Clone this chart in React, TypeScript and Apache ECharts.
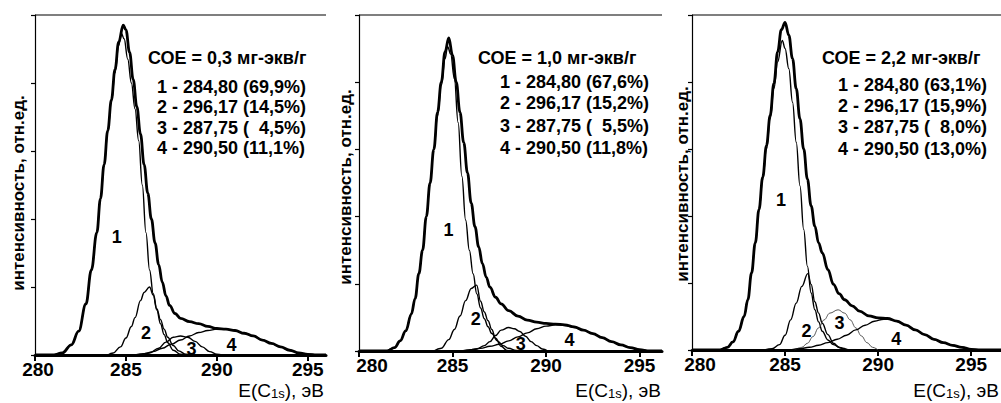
import React, { useEffect, useRef } from "react";
import * as echarts from "echarts";

type Pt = [number, number];

// ---------- Panel 1: СОЕ = 0,3 ----------
const p1Envelope: Pt[] = [[280,0],[281,0],[281.5,0.03],[282,0.15],[282.4,0.35],[282.8,0.75],[283.1,1.25],[283.4,1.8],[283.6,2.3],[283.8,2.8],[284,3.3],[284.2,3.75],[284.4,4.2],[284.6,4.6],[284.85,4.85],[285,4.78],[285.2,4.45],[285.4,4.05],[285.6,3.65],[285.8,3.25],[286,2.8],[286.2,2.38],[286.4,2.0],[286.6,1.65],[286.8,1.33],[287,1.07],[287.2,0.87],[287.4,0.73],[287.7,0.61],[288,0.54],[288.5,0.49],[289,0.46],[289.5,0.42],[290,0.39],[290.5,0.38],[291,0.36],[291.5,0.32],[292,0.28],[292.5,0.22],[293,0.17],[293.5,0.12],[294,0.07],[294.5,0.03],[295,0.01],[295.5,0],[296,0]];
const p1Peak1: Pt[] = [[281,0],[281.5,0.03],[282,0.15],[282.4,0.35],[282.8,0.75],[283.1,1.25],[283.4,1.8],[283.6,2.3],[283.8,2.78],[284,3.28],[284.2,3.72],[284.4,4.15],[284.6,4.55],[284.75,4.73],[284.9,4.65],[285.1,4.35],[285.3,4.0],[285.5,3.62],[285.7,3.15],[285.9,2.5],[286.1,1.8],[286.3,1.25],[286.5,0.9],[286.7,0.68],[286.9,0.52],[287.1,0.38],[287.3,0.26],[287.6,0.14],[287.9,0.06],[288.3,0.01],[288.7,0]];
const p1Peak2: Pt[] = [[284,0],[284.3,0.03],[284.7,0.12],[285,0.25],[285.3,0.42],[285.5,0.55],[285.8,0.8],[286,0.92],[286.3,1.0],[286.5,0.88],[286.7,0.66],[286.9,0.46],[287.1,0.3],[287.3,0.18],[287.6,0.07],[288,0.01],[288.3,0]];
const p1Peak3: Pt[] = [[285.8,0],[286.3,0.03],[286.8,0.1],[287.2,0.19],[287.6,0.26],[288,0.28],[288.4,0.26],[288.8,0.2],[289.2,0.12],[289.6,0.05],[290,0.01],[290.3,0]];
const p1Peak4: Pt[] = [[285.5,0],[286,0.02],[286.5,0.05],[287,0.1],[287.5,0.16],[288,0.22],[288.5,0.28],[289,0.33],[289.5,0.36],[290,0.38],[290.5,0.38],[291,0.36],[291.5,0.32],[292,0.28],[292.5,0.22],[293,0.17],[293.5,0.12],[294,0.07],[294.5,0.03],[295,0.01],[295.5,0]];
const p1LabelAt: Pt[] = [[284.5,1.74],[286.1,0.32],[288.6,0.09],[290.8,0.15]];

// ---------- Panel 2: СОЕ = 1,0 ----------
const p2Envelope: Pt[] = [[280,0],[281.5,0],[281.9,0.05],[282.2,0.15],[282.5,0.3],[282.8,0.55],[283,0.78],[283.2,1.15],[283.4,1.5],[283.6,2.0],[283.8,2.5],[284,3.0],[284.2,3.55],[284.4,4.0],[284.6,4.45],[284.8,4.66],[285,4.4],[285.2,4.0],[285.4,3.55],[285.6,3.1],[285.8,2.65],[286,2.2],[286.2,1.85],[286.4,1.55],[286.6,1.3],[286.8,1.1],[287,0.95],[287.3,0.8],[287.6,0.7],[288,0.6],[288.5,0.52],[289,0.46],[289.5,0.43],[290,0.41],[290.5,0.4],[291,0.39],[291.5,0.36],[292,0.31],[292.5,0.26],[293,0.2],[293.5,0.14],[294,0.09],[294.5,0.05],[295,0.02],[295.5,0],[296.2,0]];
const p2Peak1: Pt[] = [[281.5,0],[281.9,0.05],[282.2,0.15],[282.5,0.3],[282.8,0.55],[283,0.78],[283.2,1.15],[283.4,1.5],[283.6,2.0],[283.8,2.5],[284,3.0],[284.2,3.5],[284.4,3.95],[284.6,4.35],[284.74,4.53],[284.9,4.42],[285.1,4.05],[285.3,3.4],[285.5,2.6],[285.7,1.95],[285.9,1.5],[286.1,1.15],[286.3,0.85],[286.5,0.64],[286.7,0.48],[286.9,0.36],[287.1,0.26],[287.4,0.15],[287.7,0.08],[288,0.04],[288.4,0.01],[288.8,0]];
const p2Peak2: Pt[] = [[284,0],[284.4,0.04],[284.8,0.17],[285.1,0.32],[285.4,0.52],[285.7,0.75],[286,0.93],[286.29,0.98],[286.5,0.74],[286.7,0.58],[286.9,0.45],[287.1,0.32],[287.3,0.19],[287.6,0.07],[287.9,0.01],[288.2,0]];
const p2Peak3: Pt[] = [[285.8,0],[286.3,0.03],[286.7,0.08],[287,0.14],[287.3,0.23],[287.6,0.31],[288,0.35],[288.3,0.33],[288.6,0.29],[288.9,0.22],[289.2,0.14],[289.5,0.08],[289.8,0.03],[290.1,0]];
const p2Peak4: Pt[] = [[285.5,0],[286,0.02],[286.5,0.04],[287,0.07],[287.5,0.1],[288,0.15],[288.5,0.21],[289,0.27],[289.5,0.33],[290,0.37],[290.5,0.39],[291,0.38],[291.5,0.35],[292,0.31],[292.5,0.26],[293,0.2],[293.5,0.14],[294,0.09],[294.5,0.05],[295,0.02],[295.5,0]];
const p2LabelAt: Pt[] = [[284.78,1.8],[286.24,0.47],[288.65,0.11],[291.25,0.17]];

// ---------- Panel 3: СОЕ = 2,2 ----------
const p3Envelope: Pt[] = [[280,0],[281.5,0],[281.9,0.04],[282.2,0.12],[282.5,0.28],[282.8,0.5],[283,0.75],[283.2,1.15],[283.4,1.6],[283.6,2.1],[283.8,2.58],[284,3.05],[284.2,3.5],[284.4,3.98],[284.6,4.45],[284.8,4.78],[285,4.89],[285.2,4.7],[285.4,4.35],[285.6,3.9],[285.8,3.45],[286,3.0],[286.2,2.55],[286.4,2.15],[286.6,1.85],[286.8,1.6],[287,1.45],[287.3,1.2],[287.6,0.98],[287.9,0.84],[288.2,0.75],[288.6,0.66],[289,0.58],[289.5,0.51],[290,0.48],[290.5,0.47],[291,0.43],[291.5,0.37],[292,0.3],[292.5,0.23],[293,0.16],[293.5,0.11],[294,0.07],[294.5,0.04],[295,0.01],[295.5,0],[296.6,0]];
const p3Peak1: Pt[] = [[281.5,0],[281.9,0.04],[282.2,0.12],[282.5,0.28],[282.8,0.5],[283,0.75],[283.2,1.15],[283.4,1.6],[283.6,2.08],[283.8,2.55],[284,3.0],[284.2,3.45],[284.4,3.9],[284.6,4.3],[284.85,4.62],[285,4.5],[285.2,4.2],[285.4,3.7],[285.6,3.1],[285.8,2.45],[286,1.8],[286.2,1.25],[286.4,0.85],[286.6,0.6],[286.8,0.42],[287,0.28],[287.3,0.15],[287.6,0.08],[288,0.03],[288.4,0]];
const p3Peak2: Pt[] = [[283.9,0],[284.3,0.02],[284.7,0.08],[285,0.22],[285.3,0.45],[285.6,0.7],[285.9,0.95],[286.22,1.14],[286.4,0.98],[286.6,0.72],[286.8,0.55],[287,0.4],[287.3,0.23],[287.6,0.1],[287.9,0.04],[288.2,0]];
const p3Peak3: Pt[] = [[285.5,0],[285.9,0.04],[286.2,0.1],[286.5,0.2],[286.8,0.33],[287.1,0.45],[287.4,0.55],[287.85,0.6],[288.2,0.55],[288.5,0.45],[288.8,0.33],[289.1,0.21],[289.4,0.11],[289.7,0.04],[290,0]];
const p3Peak4: Pt[] = [[285.3,0],[285.8,0.02],[286.3,0.04],[286.8,0.07],[287.3,0.11],[287.8,0.16],[288.3,0.22],[288.8,0.3],[289.3,0.37],[289.8,0.43],[290.3,0.46],[290.6,0.46],[291,0.43],[291.5,0.37],[292,0.3],[292.5,0.23],[293,0.16],[293.5,0.11],[294,0.07],[294.5,0.04],[295,0.01],[295.5,0]];
const p3LabelAt: Pt[] = [[284.78,2.24],[286.15,0.29],[287.93,0.4],[290.97,0.17]];

// ---------- Texts ----------
const titles = ["СОЕ = 0,3 мг-экв/г", "СОЕ = 1,0 мг-экв/г", "СОЕ = 2,2 мг-экв/г"];
const p1Legend = ["1 - 284,80 (69,9%)", "2 - 296,17 (14,5%)", "3 - 287,75 (  4,5%)", "4 - 290,50 (11,1%)"];
const p2Legend = ["1 - 284,80 (67,6%)", "2 - 296,17 (15,2%)", "3 - 287,75 (  5,5%)", "4 - 290,50 (11,8%)"];
const p3Legend = ["1 - 284,80 (63,1%)", "2 - 296,17 (15,9%)", "3 - 287,75 (  8,0%)", "4 - 290,50 (13,0%)"];
const peakNames = ["1", "2", "3", "4"];
const xTicks = [280, 285, 290, 295];
const yTicks = [0, 1, 2, 3, 4, 5];
const yName = "интенсивность, отн.ед.";
const xNameRich = "E(C{sub|1s}), эВ";

const FONT = "'Liberation Sans', Arial, Helvetica, sans-serif";

const panels = [
  { env: p1Envelope, peaks: [p1Peak1, p1Peak2, p1Peak3, p1Peak4], labels: p1LabelAt, legend: p1Legend, title: titles[0] },
  { env: p2Envelope, peaks: [p2Peak1, p2Peak2, p2Peak3, p2Peak4], labels: p2LabelAt, legend: p2Legend, title: titles[1] },
  { env: p3Envelope, peaks: [p3Peak1, p3Peak2, p3Peak3, p3Peak4], labels: p3LabelAt, legend: p3Legend, title: titles[2] },
];

const layouts = [
  { left: 35, top: 15, width: 291, height: 340, max: 296, minShift: 6, yName: [18, 193], xNameRight: 324, title: [148, 58], legX: 157, legY: [87, 107, 128, 148] },
  { left: 359, top: 15, width: 303, height: 336, max: 296.2, minShift: 26, yName: [345, 187], xNameRight: 661, title: [478, 58], legX: 500, legY: [82, 103, 126, 148] },
  { left: 692, top: 15, width: 327, height: 335, max: 296.6, minShift: 16, yName: [682, 184], xNameRight: 999, title: [822, 58], legX: 838, legY: [85, 106, 127, 149] },
];

function buildOption() {
  const grid: any[] = [];
  const xAxis: any[] = [];
  const yAxis: any[] = [];
  const series: any[] = [];
  const graphic: any[] = [];

  panels.forEach((p, i) => {
    const L = layouts[i];
    grid.push({ left: L.left, top: L.top, width: L.width, height: L.height, containLabel: false });
    xAxis.push({
      gridIndex: i,
      type: "value",
      min: 280,
      max: L.max,
      axisLine: { show: true, onZero: false, lineStyle: { color: "#000", width: 3 } },
      axisTick: { show: true, inside: false, length: 6, customValues: xTicks, lineStyle: { color: "#000", width: 2 } },
      axisLabel: {
        show: true,
        customValues: xTicks,
        margin: 5,
        color: "#000",
        fontSize: 19,
        fontWeight: "bold",
        fontFamily: FONT,
        formatter: (v: number) => (v === 280 ? "{m|" + v + "}" : "{n|" + v + "}"),
        rich: {
          m: { fontSize: 19, fontWeight: "bold", fontFamily: FONT, color: "#000", padding: [0, 0, 0, L.minShift] },
          n: { fontSize: 19, fontWeight: "bold", fontFamily: FONT, color: "#000" },
        },
      },
      splitLine: { show: false },
    });
    yAxis.push({
      gridIndex: i,
      type: "value",
      min: 0,
      max: 5,
      interval: 1,
      axisLine: { show: true, onZero: false, lineStyle: { color: "#000", width: 1.2 } },
      axisTick: { show: true, inside: false, length: 4, customValues: yTicks, lineStyle: { color: "#000", width: 1.2 } },
      axisLabel: { show: false },
      splitLine: { show: false },
    });

    p.peaks.forEach((pk, k) => {
      const faint = i === 2 && k === 2;
      series.push({
        type: "line",
        name: "p" + (i + 1) + "-" + (k + 1),
        xAxisIndex: i,
        yAxisIndex: i,
        data: pk,
        symbol: "none",
        smooth: 0.4,
        smoothMonotone: "x",
        lineStyle: { color: faint ? "#444" : "#000", width: faint ? 0.9 : 1.4 },
        z: 2,
        silent: true,
      });
    });
    series.push({
      type: "line",
      name: "env" + (i + 1),
      xAxisIndex: i,
      yAxisIndex: i,
      data: p.env,
      symbol: "none",
      smooth: 0.4,
      smoothMonotone: "x",
      lineStyle: { color: "#000", width: 2.8 },
      z: 3,
      silent: true,
    });
    series.push({
      type: "scatter",
      xAxisIndex: i,
      yAxisIndex: i,
      symbolSize: 0,
      itemStyle: { color: "#000", opacity: 1 },
      data: p.labels.map((v, k) => ({ value: v, name: peakNames[k] })),
      label: {
        show: true,
        position: "inside",
        formatter: "{b}",
        color: "#000",
        opacity: 1,
        fontSize: 18,
        fontWeight: "bold",
        fontFamily: FONT,
        textBorderWidth: 0,
        textBorderColor: "transparent",
      },
      z: 5,
      silent: true,
    });

    // top frame line
    graphic.push({
      type: "line",
      shape: { x1: L.left, y1: L.top, x2: L.left + L.width, y2: L.top },
      style: { stroke: "#000", lineWidth: 1.2 },
      silent: true,
    });
    graphic.push({
      type: "text",
      x: L.title[0],
      y: L.title[1],
      style: { text: p.title, fill: "#000", fontSize: 18, fontWeight: "bold", fontFamily: FONT, textAlign: "left", textVerticalAlign: "middle" },
      silent: true,
    });
    p.legend.forEach((t, k) => {
      graphic.push({
        type: "text",
        x: L.legX,
        y: L.legY[k],
        style: { text: t, fill: "#000", fontSize: 18, fontWeight: "bold", fontFamily: FONT, textAlign: "left", textVerticalAlign: "middle" },
        silent: true,
      });
    });
    graphic.push({
      type: "text",
      x: L.yName[0],
      y: L.yName[1],
      rotation: Math.PI / 2,
      style: { text: yName, fill: "#000", fontSize: 17, fontWeight: "bold", fontFamily: FONT, textAlign: "center", textVerticalAlign: "middle" },
      silent: true,
    });
    graphic.push({
      type: "text",
      x: L.xNameRight,
      y: 390,
      style: {
        text: xNameRich,
        fill: "#000",
        fontSize: 19,
        fontWeight: "normal",
        fontFamily: FONT,
        textAlign: "right",
        textVerticalAlign: "middle",
        rich: {
          sub: { fontSize: 13, fontWeight: "normal", fontFamily: FONT, fill: "#000", color: "#000", lineHeight: 8, verticalAlign: "bottom" },
        },
      },
      silent: true,
    });
  });

  return { animation: false, backgroundColor: "#fff", grid, xAxis, yAxis, series, graphic };
}

export default function App() {
  const ref = useRef<HTMLDivElement>(null);
  useEffect(() => {
    if (!ref.current) return;
    const chart = echarts.init(ref.current, null, { renderer: "svg" });
    chart.setOption(buildOption() as any);
    return () => chart.dispose();
  }, []);
  return <div ref={ref} style={{ position: "fixed", left: 0, top: 0, width: 1001, height: 403, background: "#fff" }} />;
}
